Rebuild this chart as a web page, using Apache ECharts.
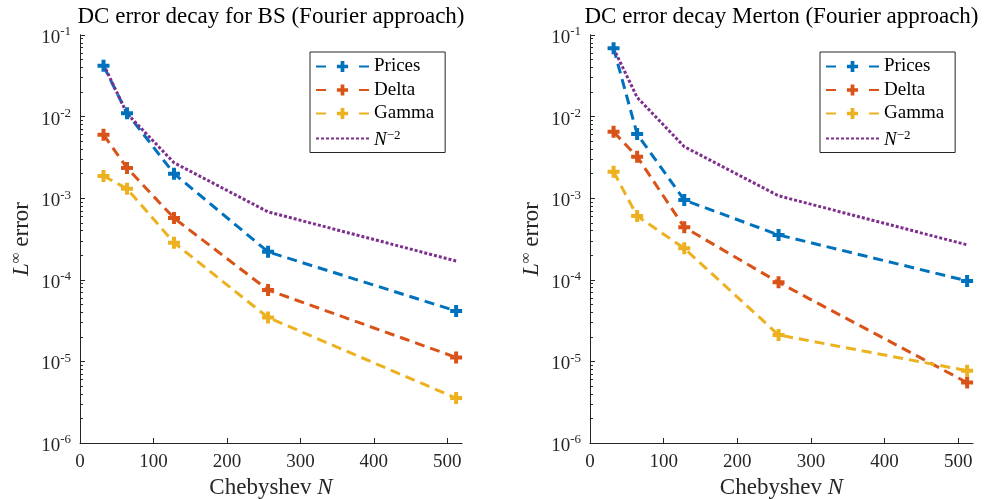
<!DOCTYPE html>
<html><head><meta charset="utf-8">
<script src="https://cdn.jsdelivr.net/npm/echarts@6/dist/echarts.min.js"></script>
<style>html,body{margin:0;padding:0;background:#fff}#c{width:986px;height:499px}</style>
</head><body><div id="c"></div>
<script>
// ---- data ----
const N = [32, 64, 128, 256, 512];
const bsPrices = [0.042, 0.011, 0.0020, 2.2e-4, 4.15e-5];
const bsDelta  = [6.0e-3, 2.35e-3, 5.7e-4, 7.5e-5, 1.12e-5];
const bsGamma  = [1.87e-3, 1.31e-3, 2.85e-4, 3.45e-5, 3.55e-6];
const bsRef    = [0.0435, 0.0109, 2.72e-3, 6.8e-4, 1.7e-4];
const mPrices  = [0.0687, 6.1e-3, 9.5e-4, 3.55e-4, 9.7e-5];
const mDelta   = [6.5e-3, 3.23e-3, 4.4e-4, 9.3e-5, 5.5e-6];
const mGamma   = [2.11e-3, 6.05e-4, 2.43e-4, 2.11e-5, 7.7e-6];
const mRef     = [0.0687, 0.0172, 4.28e-3, 1.07e-3, 2.68e-4];
const xTicks = [0, 100, 200, 300, 400, 500];
const yDecades = [-6, -5, -4, -3, -2, -1];
const titles = ['DC error decay for BS (Fourier approach)', 'DC error decay Merton (Fourier approach)'];
const names = ['Prices', 'Delta', 'Gamma', 'Nref'];
const colors = ['#0072BD', '#D95319', '#EDB120', '#7E2F8E'];
const panels = [[bsPrices, bsDelta, bsGamma, bsRef], [mPrices, mDelta, mGamma, mRef]];

// ---- layout ----
const FONT = '"Liberation Serif", "Times New Roman", serif';
const INK = '#262626';
const grids = [
  {left: 80, top: 35, width: 382, height: 408, outerBoundsMode: 'none', containLabel: false},
  {left: 590, top: 35, width: 383, height: 408, outerBoundsMode: 'none', containLabel: false}
];
const minorVals = [];
for (let d = -6; d < -1; d++) for (let k = 2; k <= 9; k++) minorVals.push(d + Math.log10(k));

const PLUS = 'path://M4,0H8V4H12V8H8V12H4V8H0V4H4Z';
const tickRich = {
  b: {fontSize: 19, fontFamily: FONT, color: INK, padding: [6, 0, 0, 0]},
  s: {fontSize: 13, fontFamily: FONT, color: INK, verticalAlign: 'top', padding: [3, 0, 0, 0]}
};
const yNameRich = {
  i: {fontSize: 23, fontFamily: FONT, fontStyle: 'italic', color: INK},
  n: {fontSize: 23, fontFamily: FONT, color: INK},
  ls: {fontSize: 15, fontFamily: FONT, color: INK, padding: [0, 0, 11, 0]}
};
const legRich = {
  t: {fontSize: 19, fontFamily: FONT, color: '#000', lineHeight: 19},
  i: {fontSize: 19, fontFamily: FONT, fontStyle: 'italic', color: '#000', lineHeight: 19, padding: [3, 0, 0, 0]},
  s: {fontSize: 13, fontFamily: FONT, color: '#000', lineHeight: 13, verticalAlign: 'top'}
};

const option = {
  animation: false,
  backgroundColor: '#fff',
  title: grids.map((g, k) => ({
    text: titles[k], left: g.left + g.width / 2, top: 5, textAlign: 'center', padding: 0,
    textStyle: {fontFamily: FONT, fontSize: 23, fontWeight: 'normal', color: '#000'}
  })),
  legend: grids.map((g, k) => ({
    left: g.left + 230, top: 52, orient: 'vertical',
    data: names.map((n, j) => j === 3
      ? {name: n, itemStyle: {opacity: 0}}
      : {name: n, lineStyle: {type: [10, 33]}}),
    itemWidth: 53, itemHeight: 14, itemGap: 4.5,
    padding: [5, 11, 3, 5],
    borderColor: INK, borderWidth: 1, backgroundColor: '#fff',
    selectedMode: false,
    formatter: n => n === 'Nref' ? '{i|N}{s|−2}' : '{t|' + n + '}',
    textStyle: {rich: legRich, fontSize: 19, fontFamily: FONT}
  })),
  grid: grids,
  xAxis: grids.map((g, k) => ({
    type: 'value', gridIndex: k, min: 0, max: 520,
    axisLine: {lineStyle: {color: INK, width: 1}},
    axisTick: {inside: true, length: 5, customValues: xTicks, lineStyle: {color: INK}},
    axisLabel: {customValues: xTicks, margin: 10, fontSize: 19, fontFamily: FONT, color: INK},
    splitLine: {show: false},
    name: 'Chebyshev {it|N}', nameLocation: 'middle', nameGap: 30,
    nameTextStyle: {fontSize: 23, fontFamily: FONT, color: INK,
      rich: {it: {fontSize: 23, fontFamily: FONT, fontStyle: 'italic', color: INK}}}
  })),
  yAxis: [].concat(...grids.map((g, k) => ([
    {
      type: 'log', logBase: 10, gridIndex: k, min: 1e-6, max: 1e-1, position: 'left',
      axisLine: {show: true, lineStyle: {color: INK, width: 1}},
      axisTick: {inside: true, length: 5, lineStyle: {color: INK}},
      axisLabel: {margin: 9, formatter: v => '{b|10}{s|' + Math.round(Math.log10(v)) + '}', rich: tickRich},
      splitLine: {show: false},
      name: '{i|L}{ls|∞}{n| error}', nameLocation: 'middle', nameGap: 45, nameRotate: 90,
      nameTextStyle: {rich: yNameRich}
    },
    {
      type: 'value', gridIndex: k, min: -6, max: -1, position: 'left', offset: 0,
      axisLine: {show: true, lineStyle: {color: INK, width: 1}},
      axisTick: {show: true, inside: true, length: 3, customValues: minorVals, lineStyle: {color: INK, width: 1}},
      axisLabel: {show: false},
      splitLine: {show: false}
    }
  ]))),
  series: [].concat(...panels.map((arrs, k) => arrs.map((arr, j) => ({
    type: 'line', name: names[j], xAxisIndex: k, yAxisIndex: k * 2,
    data: N.map((x, i) => [x, arr[i]]),
    symbol: j === 3 ? 'none' : PLUS, symbolSize: 12,
    showSymbol: j !== 3,
    color: colors[j],
    itemStyle: {color: colors[j]},
    lineStyle: {color: colors[j], width: 3, type: j === 3 ? [3, 2] : [10, 6]},
    emphasis: {disabled: true},
    silent: true
  }))))
};
const chart = echarts.init(document.getElementById('c'), null, {renderer: 'canvas'});
chart.setOption(option);
</script>
</body></html>
